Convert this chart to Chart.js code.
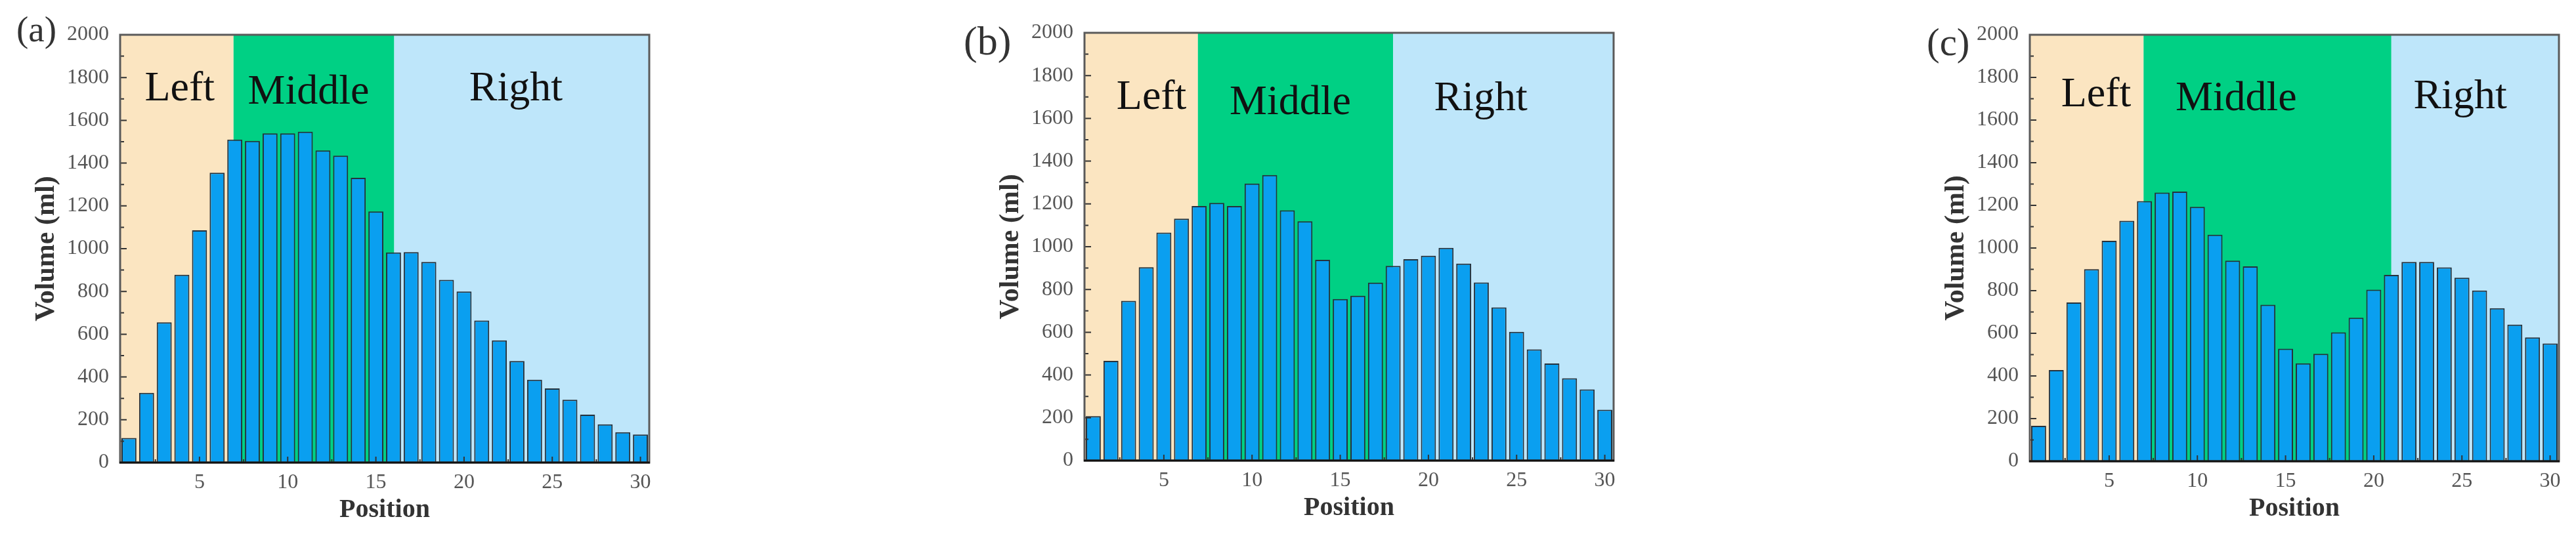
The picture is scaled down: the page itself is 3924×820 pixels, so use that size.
<!DOCTYPE html>
<html>
<head>
<meta charset="utf-8">
<script src="https://cdn.jsdelivr.net/npm/chart.js@4.4.0/dist/chart.umd.min.js"></script>
<style>
  html, body { margin: 0; padding: 0; background: #fff; }
  body { width: 3924px; height: 820px; position: relative; overflow: hidden; }
  canvas { position: absolute; }
  .tag { position: absolute; font-family: "Liberation Serif", serif; color: #333; line-height: 1; white-space: nowrap; }
</style>
</head>
<body>
<div class="tag" style="left:25px;top:17px;font-size:55px">(a)</div>
<div class="tag" style="left:1468px;top:31px;font-size:62px">(b)</div>
<div class="tag" style="left:2935px;top:35px;font-size:59px">(c)</div>
<canvas id="chartA" width="1041" height="820" style="left:0px;top:0px"></canvas>
<canvas id="chartB" width="1041" height="820" style="left:1469px;top:-3px"></canvas>
<canvas id="chartC" width="1041" height="818" style="left:2909px;top:0px"></canvas>
<script>
const positions = [1, 2, 3, 4, 5, 6, 7, 8, 9, 10, 11, 12, 13, 14, 15, 16, 17, 18, 19, 20, 21, 22, 23, 24, 25, 26, 27, 28, 29, 30];
const volumeA = [115, 326, 656, 878, 1086, 1355, 1510, 1504, 1539, 1539, 1547, 1459, 1435, 1331, 1174, 982, 984, 938, 854, 800, 664, 571, 475, 387, 347, 294, 224, 179, 142, 131];
const volumeB = [208, 466, 747, 904, 1066, 1131, 1190, 1205, 1190, 1295, 1335, 1170, 1119, 939, 755, 771, 832, 910, 942, 958, 995, 921, 833, 716, 602, 520, 454, 385, 333, 238];
const volumeC = [166, 428, 745, 901, 1034, 1128, 1220, 1260, 1265, 1193, 1062, 941, 914, 734, 528, 459, 504, 605, 673, 805, 874, 935, 935, 909, 861, 801, 718, 641, 581, 552];

const xTicks = [5, 10, 15, 20, 25, 30];
const yTicks = [0, 200, 400, 600, 800, 1000, 1200, 1400, 1600, 1800, 2000];

// zone edges along Position, and where each zone name sits (position, volume)
const zoneNames = ['Left', 'Middle', 'Right'];
const zonesA = [0.5, 6.93, 16.04, 30.5];
const zonesB = [0.5, 6.93, 18.0, 30.5];
const zonesC = [0.5, 6.95, 21.0, 30.5];
const zoneTextA = [[3.88, 1693], [11.18, 1678], [22.94, 1693]];
const zoneTextB = [[4.3, 1645], [12.17, 1621], [22.97, 1637]];
const zoneTextC = [[4.26, 1665], [12.2, 1645], [24.9, 1656]];

const zoneColors = ['#fbe5c1', '#00d084', '#bee6fa'];
const serif = '"Liberation Serif", "Times New Roman", serif';

const zonePlugin = {
    id: 'zones',
    beforeDatasetsDraw(chart, args, opts) {
        const {ctx, chartArea: a, scales: {x, y}} = chart;
        ctx.save();
        for (let i = 0; i < zoneNames.length; i++) {
            const x0 = x.getPixelForValue(opts.edges[i]);
            const x1 = x.getPixelForValue(opts.edges[i + 1]);
            ctx.fillStyle = zoneColors[i];
            ctx.fillRect(x0, a.top, x1 - x0, a.height);
        }
        ctx.fillStyle = '#111';
        ctx.font = '64px ' + serif;
        ctx.textAlign = 'center';
        ctx.textBaseline = 'alphabetic';
        opts.text.forEach((p, i) => {
            ctx.fillText(zoneNames[i], x.getPixelForValue(p[0]), y.getPixelForValue(p[1]));
        });
        ctx.restore();
    }
};

const framePlugin = {
    id: 'frame',
    afterDatasetsDraw(chart) {
        const {ctx, chartArea: a, scales: {x, y}} = chart;
        ctx.save();
        ctx.strokeStyle = '#333';
        ctx.lineWidth = 2;
        ctx.beginPath();
        yTicks.forEach((v, i) => {
            let py = y.getPixelForValue(v);
            ctx.moveTo(a.left, py); ctx.lineTo(a.left + 10, py);
            if (i > 0) {
                py = y.getPixelForValue(v - 100);
                ctx.moveTo(a.left, py); ctx.lineTo(a.left + 6, py);
            }
        });
        xTicks.forEach(v => {
            let px = x.getPixelForValue(v);
            ctx.moveTo(px, a.bottom); ctx.lineTo(px, a.bottom - 9);
            px = x.getPixelForValue(v - 2.5);
            ctx.moveTo(px, a.bottom); ctx.lineTo(px, a.bottom - 5);
        });
        ctx.stroke();
        ctx.strokeStyle = '#5a5a5a';
        ctx.lineWidth = 3;
        ctx.strokeRect(a.left, a.top, a.width, a.height);
        ctx.strokeStyle = '#111';
        ctx.beginPath();
        ctx.moveTo(a.left - 1, a.bottom); ctx.lineTo(a.right + 1, a.bottom);
        ctx.stroke();
        ctx.restore();
    }
};

function drawPanel(id, values, edges, text) {
    new Chart(document.getElementById(id), {
        type: 'bar',
        data: {
            datasets: [{
                data: positions.map((p, i) => ({x: p, y: values[i]})),
                backgroundColor: '#0a9ff0',
                borderColor: '#26323c',
                borderWidth: 2,
                categoryPercentage: 1,
                barPercentage: 0.85
            }]
        },
        options: {
            responsive: false,
            animation: false,
            layout: {padding: {left: 0, right: 52, top: 53, bottom: 0}},
            plugins: {
                legend: {display: false},
                tooltip: {enabled: false},
                zones: {edges: edges, text: text}
            },
            scales: {
                x: {
                    type: 'linear',
                    offset: false,
                    min: 0.5,
                    max: 30.5,
                    afterBuildTicks: s => { s.ticks = xTicks.map(v => ({value: v})); },
                    afterFit: s => { s.height = 115; },
                    grid: {display: false, drawTicks: false},
                    border: {display: false},
                    ticks: {padding: 11, color: '#555', maxRotation: 0, callback: v => String(v), font: {family: serif, size: 32}},
                    title: {
                        display: true, text: 'Position', color: '#333',
                        font: {family: serif, size: 40, weight: 'bold'},
                        padding: {top: 0, bottom: 18}
                    }
                },
                y: {
                    min: 0,
                    max: 2000,
                    afterBuildTicks: s => { s.ticks = yTicks.map(v => ({value: v})); },
                    afterFit: s => { s.width = 183; },
                    grid: {display: false, drawTicks: false},
                    border: {display: false},
                    ticks: {padding: 17, color: '#555', callback: v => String(v), font: {family: serif, size: 32}},
                    title: {
                        display: true, text: 'Volume (ml)', color: '#333',
                        font: {family: serif, size: 42, weight: 'bold'},
                        padding: {top: 46, bottom: 0}
                    }
                }
            }
        },
        plugins: [zonePlugin, framePlugin]
    });
}

drawPanel('chartA', volumeA, zonesA, zoneTextA);
drawPanel('chartB', volumeB, zonesB, zoneTextB);
drawPanel('chartC', volumeC, zonesC, zoneTextC);
</script>
</body>
</html>
